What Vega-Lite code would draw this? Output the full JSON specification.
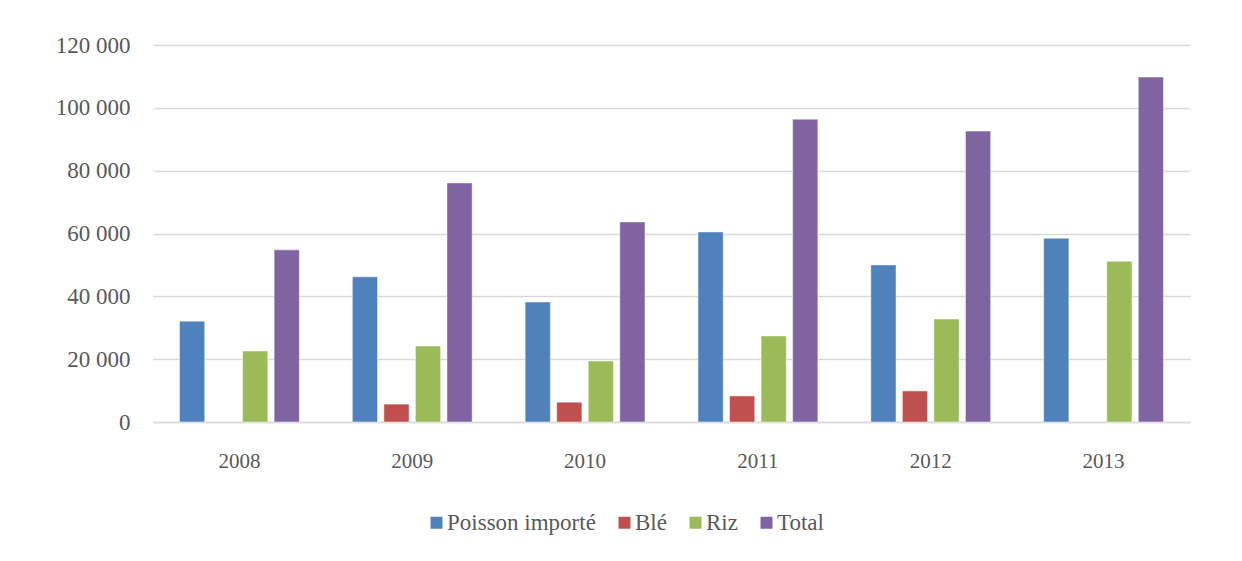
{
  "$schema": "https://vega.github.io/schema/vega-lite/v6.json",
  "width": 1037,
  "height": 377,
  "autosize": {"type": "none"},
  "padding": {"left": 153, "top": 45, "right": 52, "bottom": 139},
  "background": "white",
  "data": {
    "values": [
      {"annee": "2008", "serie": "Poisson importé", "valeur": 32100},
      {"annee": "2008", "serie": "Riz", "valeur": 22600},
      {"annee": "2008", "serie": "Total", "valeur": 54800},
      {"annee": "2009", "serie": "Poisson importé", "valeur": 46200},
      {"annee": "2009", "serie": "Blé", "valeur": 5700},
      {"annee": "2009", "serie": "Riz", "valeur": 24200},
      {"annee": "2009", "serie": "Total", "valeur": 76100},
      {"annee": "2010", "serie": "Poisson importé", "valeur": 38200},
      {"annee": "2010", "serie": "Blé", "valeur": 6300},
      {"annee": "2010", "serie": "Riz", "valeur": 19400},
      {"annee": "2010", "serie": "Total", "valeur": 63700},
      {"annee": "2011", "serie": "Poisson importé", "valeur": 60500},
      {"annee": "2011", "serie": "Blé", "valeur": 8300},
      {"annee": "2011", "serie": "Riz", "valeur": 27400},
      {"annee": "2011", "serie": "Total", "valeur": 96400},
      {"annee": "2012", "serie": "Poisson importé", "valeur": 50000},
      {"annee": "2012", "serie": "Blé", "valeur": 9900},
      {"annee": "2012", "serie": "Riz", "valeur": 32800},
      {"annee": "2012", "serie": "Total", "valeur": 92600},
      {"annee": "2013", "serie": "Poisson importé", "valeur": 58500},
      {"annee": "2013", "serie": "Riz", "valeur": 51200},
      {"annee": "2013", "serie": "Total", "valeur": 109800}
    ]
  },
  "mark": {"type": "bar", "stroke": "white", "strokeWidth": 0.5},
  "encoding": {
    "x": {
      "field": "annee",
      "type": "nominal",
      "scale": {"paddingInner": 0.27, "paddingOuter": 0.135},
      "axis": {
        "title": null,
        "labelAngle": 0,
        "labelFont": "Liberation Serif",
        "labelFontSize": 21,
        "labelColor": "#595959",
        "labelPadding": 28,
        "ticks": false,
        "domain": true,
        "domainColor": "#d9d9d9",
        "domainWidth": 1.5,
        "grid": false
      }
    },
    "xOffset": {
      "field": "serie",
      "type": "nominal",
      "scale": {"domain": ["Poisson importé", "Blé", "Riz", "Total"], "paddingInner": 0.2, "paddingOuter": 0.1}
    },
    "y": {
      "field": "valeur",
      "type": "quantitative",
      "scale": {"domain": [0, 120000], "nice": false},
      "axis": {
        "title": null,
        "values": [0, 20000, 40000, 60000, 80000, 100000, 120000],
        "format": ",d",
        "labelFont": "Liberation Serif",
        "labelFontSize": 23,
        "labelColor": "#595959",
        "labelPadding": 23,
        "ticks": false,
        "domain": false,
        "grid": true,
        "gridColor": "#d9d9d9",
        "gridWidth": 1.5
      }
    },
    "color": {
      "field": "serie",
      "type": "nominal",
      "scale": {
        "domain": ["Poisson importé", "Blé", "Riz", "Total"],
        "range": ["#4F81BD", "#C0504D", "#9BBB59", "#8064A2"]
      },
      "legend": {
        "title": null,
        "orient": "none",
        "direction": "horizontal",
        "legendX": 272,
        "legendY": 466,
        "symbolType": "square",
        "symbolSize": 144,
        "symbolStrokeWidth": 0,
        "labelFont": "Liberation Serif",
        "labelFontSize": 23,
        "labelColor": "#595959",
        "labelOffset": -1,
        "columnPadding": 17
      }
    }
  },
  "config": {
    "view": {"stroke": null},
    "locale": {
      "number": {"decimal": ",", "thousands": " ", "grouping": [3], "currency": ["", " €"]}
    }
  }
}
